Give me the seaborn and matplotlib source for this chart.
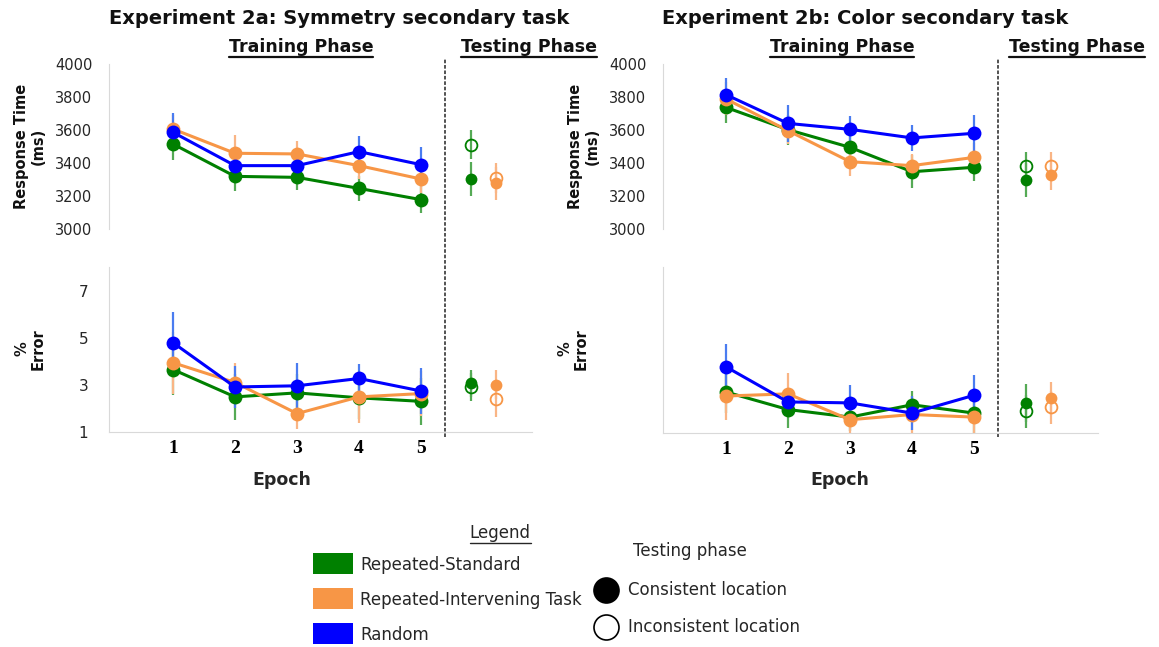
import numpy as np
import pandas as pd
import matplotlib
matplotlib.use("Agg")
import matplotlib.pyplot as plt
import seaborn as sns
from matplotlib.lines import Line2D
from matplotlib.patches import Rectangle

# ---------------------------------------------------------------- data
epochs = [1, 2, 3, 4, 5]
conditions = ["Repeated-Standard", "Repeated-Intervening Task", "Random"]
locations = ["Consistent location", "Inconsistent location"]

# Experiment 2a (symmetry secondary task) - training response time (ms)
rt2a_std = [3515, 3319, 3313, 3246, 3178]
rt2a_int = [3606, 3459, 3455, 3384, 3303]
rt2a_rnd = [3586, 3384, 3384, 3469, 3390]
rt2a_std_se = [97, 91, 77, 74, 81]
rt2a_int_se = [85, 111, 76, 80, 85]
rt2a_rnd_se = [115, 90, 85, 97, 109]
# testing phase: [consistent, inconsistent]
rt2a_test_std = [3303, 3511]
rt2a_test_std_se = [101, 89]
rt2a_test_int = [3277, 3309]
rt2a_test_int_se = [100, 90]

# Experiment 2a - % error
err2a_std = [3.65, 2.49, 2.66, 2.45, 2.30]
err2a_int = [3.94, 3.10, 1.78, 2.49, 2.63]
err2a_rnd = [4.79, 2.91, 2.96, 3.27, 2.74]
err2a_std_se = [1.09, 0.97, 0.82, 0.88, 1.00]
err2a_int_se = [1.32, 0.81, 0.64, 1.11, 0.97]
err2a_rnd_se = [1.32, 0.90, 0.98, 0.61, 0.96]
err2a_test_std = [3.06, 2.91]
err2a_test_std_se = [0.58, 0.60]
err2a_test_int = [3.01, 2.38]
err2a_test_int_se = [0.61, 0.74]

# Experiment 2b (color secondary task) - training response time (ms)
rt2b_std = [3737, 3602, 3495, 3347, 3374]
rt2b_int = [3788, 3596, 3408, 3384, 3434]
rt2b_rnd = [3814, 3640, 3604, 3552, 3580]
rt2b_std_se = [97, 91, 85, 99, 81]
rt2b_int_se = [100, 80, 85, 71, 90]
rt2b_rnd_se = [101, 114, 79, 80, 111]
rt2b_test_std = [3297, 3380]
rt2b_test_std_se = [101, 85]
rt2b_test_int = [3329, 3380]
rt2b_test_int_se = [93, 85]

# Experiment 2b - % error
err2b_std = [2.73, 1.99, 1.67, 2.19, 1.84]
err2b_int = [2.56, 2.65, 1.56, 1.78, 1.67]
err2b_rnd = [3.79, 2.31, 2.27, 1.84, 2.59]
err2b_std_se = [0.89, 0.78, 0.60, 0.57, 0.87]
err2b_int_se = [1.00, 0.89, 0.60, 0.80, 0.70]
err2b_rnd_se = [0.96, 0.60, 0.77, 0.73, 0.84]
err2b_test_std = [2.26, 1.92]
err2b_test_std_se = [0.80, 0.70]
err2b_test_int = [2.47, 2.09]
err2b_test_int_se = [0.70, 0.70]

rt_ticks = [3000, 3200, 3400, 3600, 3800, 4000]
err_ticks = [1, 3, 5, 7]

# ---------------------------------------------------------------- style
palette = {"Repeated-Standard": "#008000",
           "Repeated-Intervening Task": "#F79646",
           "Random": "#0000FF"}
bar_palette = {"Repeated-Standard": "#55aa55",
               "Repeated-Intervening Task": "#f9b585",
               "Random": "#4a7cf0"}

sns.set_style("white")
plt.rcParams["font.family"] = ["DejaVu Sans"]

W, H = 1159, 647
fig = plt.figure(figsize=(W / 100, H / 100), dpi=100)


def fx(px):
    return px / W


def fy(py):
    return 1 - py / H


def add_axes_px(x0, y0, x1, y1):
    return fig.add_axes([fx(x0), fy(y1), (x1 - x0) / W, (y1 - y0) / H])


AXIS_GREY = "#d9d9d9"
TEXT_DARK = "#262626"


def draw_panel(ax, means, ses, test_means, test_ses, test_x, xlim, ylim):
    # error bars for the training epochs
    for cond, m, s in zip(conditions, means, ses):
        m = np.asarray(m, float)
        s = np.asarray(s, float)
        ax.vlines(epochs, m - s, m + s, color=bar_palette[cond], lw=1.6,
                  zorder=1, clip_on=False)
    df = pd.DataFrame({
        "epoch": epochs * len(conditions),
        "condition": np.repeat(conditions, len(epochs)),
        "value": np.concatenate(means),
    })
    sns.lineplot(data=df, x="epoch", y="value", hue="condition",
                 hue_order=conditions, palette=palette, marker="o",
                 markersize=10, markeredgewidth=0, linewidth=2.2,
                 errorbar=None, legend=False, ax=ax, zorder=3)
    for ln in ax.lines:
        ln.set_clip_on(False)
    # testing phase: filled = consistent, open = inconsistent
    for cond, xpos, m, s in zip(conditions[:2], test_x, test_means, test_ses):
        m = np.asarray(m, float)
        s = np.asarray(s, float)
        ax.vlines([xpos, xpos], m - s, m + s, color=bar_palette[cond],
                  lw=1.6, zorder=1, clip_on=False)
        ax.plot([xpos], [m[0]], "o", color=palette[cond], markersize=8.5,
                markeredgewidth=0, zorder=4, clip_on=False)
        ax.plot([xpos], [m[1]], "o", markerfacecolor="none",
                markeredgecolor=palette[cond], markersize=8.5,
                markeredgewidth=1.3, zorder=5, clip_on=False)
    ax.set_xlim(*xlim)
    ax.set_ylim(*ylim)
    ax.set_xlabel("")
    ax.set_ylabel("")
    for side in ["top", "right"]:
        ax.spines[side].set_visible(False)
    ax.spines["left"].set_color(AXIS_GREY)
    ax.spines["bottom"].set_color(AXIS_GREY)
    ax.patch.set_alpha(0)


TEST_X_A = [5.81, 6.21]
TEST_X_B = [5.84, 6.24]
DIVIDER_X = 5.39

ax_a_rt = add_axes_px(109, 64, 532, 229)
ax_a_er = add_axes_px(109, 267, 532, 432)
ax_b_rt = add_axes_px(663, 64, 1098, 229)
ax_b_er = add_axes_px(663, 267, 1098, 433)

xlim_a = (-0.032, 6.79)
xlim_b = (-0.016, 7.0)

draw_panel(ax_a_rt, [rt2a_std, rt2a_int, rt2a_rnd],
           [rt2a_std_se, rt2a_int_se, rt2a_rnd_se],
           [rt2a_test_std, rt2a_test_int], [rt2a_test_std_se, rt2a_test_int_se],
           TEST_X_A, xlim_a, (3000, 4000))
draw_panel(ax_a_er, [err2a_std, err2a_int, err2a_rnd],
           [err2a_std_se, err2a_int_se, err2a_rnd_se],
           [err2a_test_std, err2a_test_int], [err2a_test_std_se, err2a_test_int_se],
           TEST_X_A, xlim_a, (1, 8))
draw_panel(ax_b_rt, [rt2b_std, rt2b_int, rt2b_rnd],
           [rt2b_std_se, rt2b_int_se, rt2b_rnd_se],
           [rt2b_test_std, rt2b_test_int], [rt2b_test_std_se, rt2b_test_int_se],
           TEST_X_B, xlim_b, (3000, 4000))
draw_panel(ax_b_er, [err2b_std, err2b_int, err2b_rnd],
           [err2b_std_se, err2b_int_se, err2b_rnd_se],
           [err2b_test_std, err2b_test_int], [err2b_test_std_se, err2b_test_int_se],
           TEST_X_B, xlim_b, (1, 8))

# response-time panels: only a short grey y axis
for ax in (ax_a_rt, ax_b_rt):
    ax.spines["bottom"].set_visible(False)
    ax.set_xticks([])
    ax.set_yticks(rt_ticks)
    ax.set_yticklabels([str(t) for t in rt_ticks])
    ax.tick_params(axis="y", direction="out", length=5, width=1,
                   color=AXIS_GREY, pad=7, labelsize=10.5, labelcolor=TEXT_DARK)

# error panels
for ax, show in ((ax_a_er, True), (ax_b_er, False)):
    ax.set_yticks(err_ticks)
    ax.set_yticklabels([str(t) for t in err_ticks] if show else [])
    ax.tick_params(axis="y", direction="out", length=5, width=1,
                   color=AXIS_GREY, pad=10, labelsize=11, labelcolor=TEXT_DARK)
    ax.set_xticks(epochs)
    ax.set_xticklabels([str(e) for e in epochs], fontfamily="Liberation Serif",
                       fontweight="bold", fontsize=14, color="black")
    ax.tick_params(axis="x", direction="in", length=4, width=1,
                   color=AXIS_GREY, pad=6)

# dashed divider between training and testing phases
for ax in (ax_a_rt, ax_b_rt):
    ax.axvline(DIVIDER_X, ymin=-1.26, ymax=1.036, color="#444444", lw=1.3,
               linestyle=(0, (2, 1)), clip_on=False, zorder=0)

# ---------------------------------------------------------------- text
fig.text(fx(339), fy(18), "Experiment 2a: Symmetry secondary task",
         ha="center", va="center", fontsize=14, fontweight="bold",
         color="#111111")
fig.text(fx(865), fy(18), "Experiment 2b: Color secondary task",
         ha="center", va="center", fontsize=14, fontweight="bold",
         color="#111111")

underlined = []
for cx, label in ((301, "Training Phase"), (529, "Testing Phase"),
                  (842, "Training Phase"), (1077, "Testing Phase")):
    t = fig.text(fx(cx), fy(47), label, ha="center", va="center",
                 fontsize=12.5, fontweight="bold", color="#111111")
    underlined.append((t, 57, 1.6))

for cx in (30, 584):
    fig.text(fx(cx), fy(146.5), "Response Time\n(ms)", rotation=90,
             ha="center", va="center", multialignment="center",
             fontsize=10.5, fontweight="bold", linespacing=1.1,
             color="#111111")
for cx in (30, 573):
    fig.text(fx(cx), fy(349), "%\nError", rotation=90, ha="center",
             va="center", multialignment="center", fontsize=10.5,
             fontweight="bold", linespacing=1.1, color="#111111")

for cx in (282, 840):
    fig.text(fx(cx), fy(480), "Epoch", ha="center", va="center",
             fontsize=12.5, fontweight="bold", color=TEXT_DARK)

# ---------------------------------------------------------------- legend
t = fig.text(fx(500), fy(533), "Legend", ha="center", va="center",
             fontsize=12, color=TEXT_DARK)
underlined.append((t, 543, 1.0))

for cond, yc in zip(conditions, (563, 598.5, 633)):
    fig.add_artist(Rectangle((fx(313), fy(yc + 10.5)), 40 / W, 21 / H,
                             transform=fig.transFigure,
                             facecolor=palette[cond], edgecolor="none"))
    fig.text(fx(360), fy(yc + 1.5), cond, ha="left", va="center",
             fontsize=12, color=TEXT_DARK)

fig.text(fx(690), fy(551), "Testing phase", ha="center", va="center",
         fontsize=12, color=TEXT_DARK)
for loc, yc, face in zip(locations, (590, 627), ("black", "white")):
    fig.add_artist(Line2D([fx(606)], [fy(yc)], marker="o", markersize=18,
                          markerfacecolor=face, markeredgecolor="black",
                          markeredgewidth=1.2, transform=fig.transFigure))
    fig.text(fx(628), fy(yc), loc, ha="left", va="center", fontsize=12,
             color=TEXT_DARK)

# underline headings
fig.canvas.draw()
renderer = fig.canvas.get_renderer()
for t, uy, lw in underlined:
    bb = t.get_window_extent(renderer)
    fig.add_artist(Line2D([bb.x0 / W, bb.x1 / W], [fy(uy), fy(uy)],
                          transform=fig.transFigure, color=t.get_color(),
                          lw=lw))

fig.savefig("out.png", dpi=100)
